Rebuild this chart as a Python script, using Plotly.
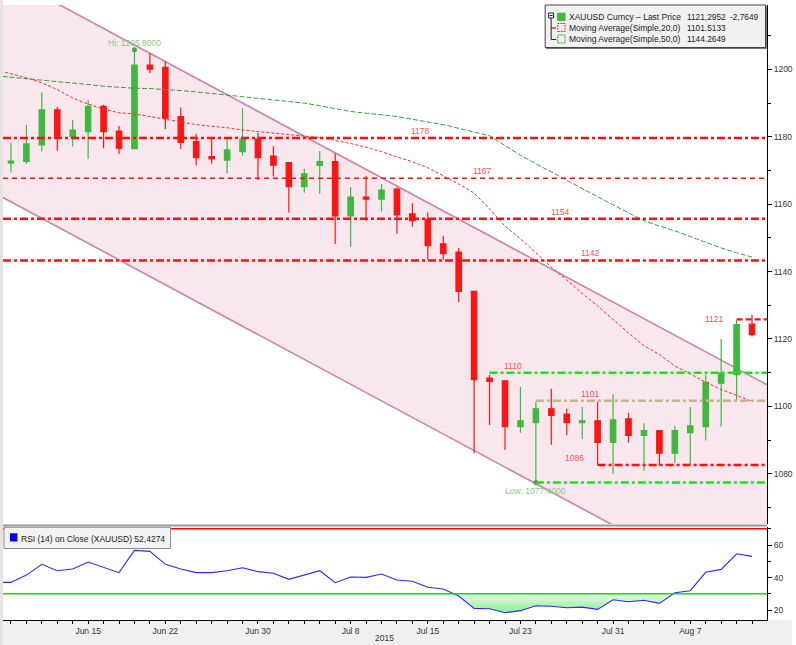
import plotly.graph_objects as go

# ---------------- data ----------------
dates = ["2015-06-05",
         "2015-06-08", "2015-06-09", "2015-06-10", "2015-06-11", "2015-06-12",
         "2015-06-15", "2015-06-16", "2015-06-17", "2015-06-18", "2015-06-19",
         "2015-06-22", "2015-06-23", "2015-06-24", "2015-06-25", "2015-06-26",
         "2015-06-29", "2015-06-30", "2015-07-01", "2015-07-02", "2015-07-03",
         "2015-07-06", "2015-07-07", "2015-07-08", "2015-07-09", "2015-07-10",
         "2015-07-13", "2015-07-14", "2015-07-15", "2015-07-16", "2015-07-17",
         "2015-07-20", "2015-07-21", "2015-07-22", "2015-07-23", "2015-07-24",
         "2015-07-27", "2015-07-28", "2015-07-29", "2015-07-30", "2015-07-31",
         "2015-08-03", "2015-08-04", "2015-08-05", "2015-08-06", "2015-08-07",
         "2015-08-10", "2015-08-11", "2015-08-12", "2015-08-13"]
candle_dates = dates[1:]

opens = [1172.2, 1172.7, 1177.6, 1188.0, 1180.1, 1181.5, 1189.0, 1181.7, 1176.5, 1201.3,
         1200.6, 1186.0, 1178.6, 1174.1, 1173.1, 1175.6, 1179.3, 1174.3, 1172.3, 1165.2,
         1171.5, 1172.6, 1156.5, 1162.1, 1161.5, 1164.5, 1157.1, 1155.5, 1148.2, 1145.8,
         1134.1, 1108.4, 1107.6, 1094.0, 1095.2, 1099.3, 1097.7, 1095.2, 1095.7, 1089.3,
         1096.3, 1091.4, 1092.8, 1086.1, 1092.2, 1094.0, 1106.9, 1109.4, 1124.4]
highs = [1178.3, 1183.5, 1193.1, 1188.8, 1185.0, 1190.9, 1189.5, 1183.2, 1205.8, 1204.8,
         1202.3, 1188.7, 1180.9, 1179.3, 1179.3, 1188.5, 1181.1, 1177.2, 1172.3, 1170.5,
         1175.8, 1175.1, 1165.0, 1168.4, 1166.0, 1165.0, 1160.3, 1157.6, 1150.6, 1147.0,
         1134.1, 1109.4, 1107.6, 1105.8, 1101.4, 1105.2, 1099.3, 1099.8, 1101.4, 1103.7,
         1098.0, 1095.0, 1092.8, 1094.2, 1099.8, 1109.4, 1120.0, 1125.6, 1127.2]
lows = [1169.4, 1172.0, 1175.6, 1175.9, 1177.1, 1173.4, 1176.6, 1174.9, 1176.5, 1198.9,
        1182.3, 1176.4, 1171.5, 1172.0, 1169.2, 1174.4, 1167.2, 1168.2, 1157.5, 1163.4,
        1163.1, 1148.2, 1147.4, 1155.1, 1157.8, 1151.2, 1153.4, 1143.5, 1143.5, 1131.0,
        1086.1, 1094.5, 1087.1, 1092.2, 1077.4, 1088.6, 1091.5, 1090.3, 1082.6, 1080.0,
        1089.3, 1080.9, 1082.6, 1083.1, 1082.6, 1089.9, 1094.0, 1101.7, 1120.7]
closes = [1172.8, 1177.9, 1188.0, 1180.1, 1182.0, 1189.0, 1181.5, 1176.6, 1201.3, 1200.1,
          1185.5, 1178.3, 1173.8, 1173.4, 1176.1, 1179.3, 1173.8, 1171.6, 1165.2, 1169.0,
          1172.6, 1156.5, 1162.1, 1161.5, 1164.2, 1156.8, 1155.1, 1147.7, 1145.3, 1134.1,
          1107.9, 1107.4, 1094.0, 1095.7, 1099.3, 1097.3, 1095.2, 1095.7, 1089.3, 1096.0,
          1091.4, 1092.8, 1086.1, 1092.8, 1094.2, 1107.1, 1109.9, 1124.3, 1121.3]

# moving averages and RSI (one value per entry of `dates`)
ma20 = [1199.9,
        1198.7, 1197.5, 1196.0, 1194.0, 1191.5, 1189.7, 1188.2, 1187.1, 1186.8, 1186.0,
        1185.3, 1184.5, 1183.6, 1183.1, 1182.7, 1182.0, 1181.5, 1181.0, 1180.6, 1180.2,
        1179.8, 1179.0, 1178.0, 1176.9, 1175.6, 1174.0, 1172.6, 1170.8, 1168.5, 1166.0,
        1163.3, 1158.6, 1153.5, 1149.7, 1145.6, 1141.3, 1137.5, 1133.5, 1129.8, 1125.7,
        1121.8, 1118.0, 1115.4, 1112.0, 1109.5, 1107.2, 1105.0, 1103.2, 1101.5]
ma50 = [1198.1,
        1197.7, 1197.3, 1196.8, 1196.4, 1196.0, 1195.5, 1195.0, 1194.6, 1194.4, 1194.3,
        1194.1, 1193.7, 1193.3, 1192.9, 1192.4, 1191.9, 1191.4, 1191.0, 1190.6, 1190.0,
        1189.2, 1188.3, 1187.5, 1187.0, 1186.5, 1186.0, 1185.2, 1184.4, 1183.6, 1182.5,
        1181.4, 1180.3, 1177.4, 1174.5, 1172.0, 1169.5, 1167.2, 1164.7, 1162.2, 1159.8,
        1157.5, 1155.1, 1153.5, 1152.1, 1150.4, 1148.7, 1147.0, 1145.6, 1144.3]
rsi = [37.0,
       37.0, 41.5, 48.1, 44.2, 45.2, 49.5, 46.0, 43.0, 56.7, 56.1,
       48.1, 45.2, 43.0, 43.0, 44.2, 46.0, 43.6, 42.6, 38.9, 41.5,
       44.2, 36.8, 40.3, 40.1, 42.2, 38.5, 37.7, 34.0, 32.9, 28.6,
       21.0, 20.8, 18.3, 19.6, 22.6, 22.3, 21.4, 21.8, 20.4, 26.3,
       25.1, 26.0, 24.1, 30.6, 31.9, 43.2, 45.0, 54.6, 53.0]

# trend channel anchors (date, price)
channel_upper = [("2015-06-08", 1226.9), ("2015-08-13", 1108.8)]
channel_lower = [("2015-06-08", 1160.7), ("2015-08-13", 1042.6)]

# horizontal levels: value, label, start date (None = full width)
level_values = [1179.6, 1167.7, 1155.7, 1143.3, 1125.8, 1110.0, 1101.7, 1082.6, 1077.4]
level_labels = ["1178", "1167", "1154", "1142", "1121", "1110", "1101", "1086", ""]
level_starts = [None, None, None, None, "2015-08-12", "2015-07-21", "2015-07-24", "2015-07-30", "2015-07-24"]

tick_dates = ["2015-06-15", "2015-06-22", "2015-06-30", "2015-07-08",
              "2015-07-15", "2015-07-23", "2015-07-31", "2015-08-07"]
tick_text = ["Jun 15", "Jun 22", "Jun 30", "Jul 8", "Jul 15", "Jul 23", "Jul 31", "Aug 7"]

legend_rows = [("XAUUSD Curncy – Last Price", "1121,2952", "-2,7649"),
               ("Moving Average(Simple,20,0)", "1101.5133", ""),
               ("Moving Average(Simple,50,0)", "1144.2649", "")]
rsi_legend = "RSI (14) on Close (XAUUSD) 52,4274"

# ---------------- layout helpers ----------------
W, H = 796, 645
ML, MR, MT, MB = 3, 25, 5, 25
PW, PH = W - ML - MR, H - MT - MB


def px(x):
    return (x - ML) / PW


def py(y):
    return (H - MB - y) / PH


pos = {d: i for i, d in enumerate(dates)}
xs_all = list(range(len(dates)))
xs_c = [pos[d] for d in candle_dates]
XR = [0.485, 49.97]

FONT = "Liberation Sans, Arial, sans-serif"
FS = 8.5
GREEN = "#40b840"
RED = "#ff1414"


def ext_line(anchors):
    (d0, v0), (d1, v1) = anchors
    x0, x1 = pos[d0], pos[d1]
    s = (v1 - v0) / (x1 - x0)
    return [v0 + s * (XR[0] - x0), v0 + s * (XR[1] - x0)]


shapes = []
annotations = []

# background pieces
shapes.append(dict(type="rect", xref="paper", yref="paper", x0=px(0), x1=px(W), y0=py(H), y1=py(620),
                   fillcolor="#f0f0f0", line=dict(width=0), layer="below"))
shapes.append(dict(type="rect", xref="paper", yref="paper", x0=px(0), x1=px(3), y0=py(H), y1=py(0),
                   fillcolor="#e4e4e4", line=dict(width=0), layer="below"))

# channel (drawn beneath the candles)
up = ext_line(channel_upper)
lo = ext_line(channel_lower)
shapes.append(dict(type="path", xref="x", yref="y", layer="below",
                   path=f"M {XR[0]},{lo[0]} L {XR[1]},{lo[1]} L {XR[1]},{up[1]} L {XR[0]},{up[0]} Z",
                   fillcolor="#f9e7ee", line=dict(width=0)))
for ln in (up, lo):
    shapes.append(dict(type="line", xref="x", yref="y", layer="below",
                       x0=XR[0], x1=XR[1], y0=ln[0], y1=ln[1],
                       line=dict(color="#c98aa6", width=1.7)))

fig = go.Figure()

# moving averages
fig.add_trace(go.Scatter(x=xs_all, y=ma50, mode="lines",
                         line=dict(color="#3c9c3c", width=1, dash="5px,2px")))
fig.add_trace(go.Scatter(x=xs_all, y=ma20, mode="lines",
                         line=dict(color="#ff2a2a", width=1, dash="3px,2px")))

# candles
fig.add_trace(go.Candlestick(x=xs_c, open=opens, high=highs, low=lows, close=closes,
                             increasing=dict(line=dict(color=GREEN, width=1.2), fillcolor=GREEN),
                             decreasing=dict(line=dict(color=RED, width=1.2), fillcolor=RED),
                             whiskerwidth=0))

# hi / low markers
hi_i = max(range(len(highs)), key=lambda i: highs[i])
lo_i = min(range(len(lows)), key=lambda i: lows[i])
fig.add_trace(go.Scatter(x=[xs_c[hi_i], xs_c[lo_i]], y=[highs[hi_i], lows[lo_i]], mode="markers",
                         marker=dict(color="#44aa44", size=5)))

# RSI fill below 30
rx, ry = [], []
for i, v in enumerate(rsi):
    if i > 0:
        a = rsi[i - 1]
        if (a - 30) * (v - 30) < 0:
            t = (30 - a) / (v - a)
            rx.append(i - 1 + t)
            ry.append(30)
    rx.append(i)
    ry.append(min(v, 30))
fig.add_trace(go.Scatter(x=rx, y=[30] * len(rx), mode="lines", line=dict(width=0),
                         xaxis="x", yaxis="y2", hoverinfo="skip"))
fig.add_trace(go.Scatter(x=rx, y=ry, mode="lines", line=dict(width=0), fill="tonexty",
                         fillgradient=dict(type="vertical",
                                           colorscale=[[0, "#8eea8e"], [1, "#e8ffe8"]]),
                         xaxis="x", yaxis="y2", hoverinfo="skip"))
fig.add_trace(go.Scatter(x=xs_all, y=rsi, mode="lines", line=dict(color="#2b2bff", width=1.1),
                         xaxis="x", yaxis="y2"))

# level lines
styles = [
    dict(color="#ff1010", width=2.5, dash="8px,3px,3px,3px"),
    dict(color="#ff1010", width=1.6, dash="5px,4px"),
    dict(color="#ff1010", width=2.5, dash="8px,3px,3px,3px"),
    dict(color="#ff1010", width=2.5, dash="8px,3px,3px,3px"),
    dict(color="#ff1010", width=2.2, dash="6px,3px"),
    dict(color="#22dd22", width=2.5, dash="8px,3px,3px,3px"),
    dict(color="#c8b48c", width=2.5, dash="8px,3px,3px,3px"),
    dict(color="#ff1010", width=2.5, dash="8px,3px,3px,3px"),
    dict(color="#22dd22", width=2.5, dash="8px,3px,3px,3px"),
]
for v, st, s in zip(level_values, level_starts, styles):
    x0 = XR[0] if st is None else pos[st]
    shapes.append(dict(type="line", xref="x", yref="y", x0=x0, x1=XR[1], y0=v, y1=v, line=s))

# level labels
label_pos = [(27.55, "bottom"), (31.54, "bottom"), (36.57, "bottom"), (38.56, "bottom"),
             (46.55, "middle"), (33.54, "bottom"), (38.56, "bottom"), (37.53, "bottom")]
for (lx, ya), v, t in zip(label_pos, level_values, level_labels):
    annotations.append(dict(x=lx, y=v, xref="x", yref="y", text=t, showarrow=False,
                            yanchor=ya, xanchor="center",
                            font=dict(family=FONT, size=FS, color="#ff5050")))
annotations.append(dict(x=xs_c[hi_i], y=highs[hi_i], xref="x", yref="y",
                        text=f"Hi: {highs[hi_i]:.4f}", showarrow=False, yanchor="bottom", yshift=0,
                        font=dict(family=FONT, size=FS, color="#7fcc7f")))
annotations.append(dict(x=xs_c[lo_i], y=lows[lo_i], xref="x", yref="y",
                        text=f"Low: {lows[lo_i]:.4f}", showarrow=False, yanchor="top", yshift=-1,
                        font=dict(family=FONT, size=FS, color="#7fcc7f")))

# RSI reference lines
shapes.append(dict(type="line", xref="x domain", yref="y2", x0=0, x1=1, y0=70, y1=70,
                   line=dict(color="#ff0000", width=1.5)))
shapes.append(dict(type="line", xref="x domain", yref="y2", x0=0, x1=1, y0=30, y1=30,
                   line=dict(color="#22cc22", width=1.5)))
# panel separator
shapes.append(dict(type="line", xref="paper", yref="paper", x0=0, x1=1, y0=py(525.6), y1=py(525.6),
                   line=dict(color="#999999", width=2)))

# main legend box
shapes.append(dict(type="rect", xref="paper", yref="paper", x0=px(549), x1=px(771), y0=py(49), y1=py(6),
                   fillcolor="#777777", line=dict(width=0)))
shapes.append(dict(type="rect", xref="paper", yref="paper", x0=px(548), x1=px(769.5), y0=py(47.5), y1=py(5),
                   fillcolor="#f1f1f1", line=dict(color="#444444", width=1)))
# tree icon
shapes.append(dict(type="rect", xref="paper", yref="paper", x0=px(551.5), x1=px(556.5), y0=py(18), y1=py(13),
                   fillcolor="white", line=dict(color="#222", width=1)))
shapes.append(dict(type="line", xref="paper", yref="paper", x0=px(552.5), x1=px(555.5), y0=py(15.5), y1=py(15.5),
                   line=dict(color="#222", width=1)))
shapes.append(dict(type="line", xref="paper", yref="paper", x0=px(554), x1=px(554), y0=py(18), y1=py(39.5),
                   line=dict(color="#222", width=1)))
for yy in (28, 39.5):
    shapes.append(dict(type="line", xref="paper", yref="paper", x0=px(554), x1=px(559), y0=py(yy), y1=py(yy),
                       line=dict(color="#222", width=1)))
shapes.append(dict(type="rect", xref="paper", yref="paper", x0=px(560), x1=px(568.5), y0=py(21), y1=py(12.7),
                   fillcolor="#3cbf3c", line=dict(width=0)))
shapes.append(dict(type="rect", xref="paper", yref="paper", x0=px(560.7), x1=px(568), y0=py(31.5), y1=py(23.5),
                   fillcolor="rgba(0,0,0,0)", line=dict(color="#ff2020", width=1, dash="2px,1px")))
shapes.append(dict(type="rect", xref="paper", yref="paper", x0=px(560.7), x1=px(568), y0=py(43), y1=py(35),
                   fillcolor="rgba(0,0,0,0)", line=dict(color="#33a033", width=1, dash="2px,1px")))
for (t, v1, v2), yy in zip(legend_rows, (17.3, 28, 39.3)):
    annotations.append(dict(x=px(570), y=py(yy), xref="paper", yref="paper", text=t, showarrow=False,
                            xanchor="left", yanchor="middle",
                            font=dict(family=FONT, size=FS, color="#1a1a1a")))
    annotations.append(dict(x=px(689), y=py(yy), xref="paper", yref="paper", text=v1, showarrow=False,
                            xanchor="left", yanchor="middle",
                            font=dict(family=FONT, size=8.3, color="#1a1a1a")))
    if v2:
        annotations.append(dict(x=px(732), y=py(yy), xref="paper", yref="paper", text=v2, showarrow=False,
                                xanchor="left", yanchor="middle",
                                font=dict(family=FONT, size=8.3, color="#1a1a1a")))

# RSI legend box
shapes.append(dict(type="rect", xref="paper", yref="paper", x0=px(4), x1=px(171.5), y0=py(548.5), y1=py(527.3),
                   fillcolor="#f3f3f3", line=dict(color="#8a8a8a", width=1)))
shapes.append(dict(type="rect", xref="paper", yref="paper", x0=px(10), x1=px(17.5), y0=py(541.5), y1=py(533.3),
                   fillcolor="#0000ff", line=dict(width=0)))
annotations.append(dict(x=px(19.5), y=py(539), xref="paper", yref="paper", text=rsi_legend, showarrow=False,
                        xanchor="left", yanchor="middle",
                        font=dict(family=FONT, size=FS, color="#1a1a1a")))

# year label
annotations.append(dict(x=px(386), y=py(638), xref="paper", yref="paper", text="2015", showarrow=False,
                        xanchor="center", yanchor="middle",
                        font=dict(family=FONT, size=FS, color="#333333")))

fig.update_layout(
    width=W, height=H,
    margin=dict(l=ML, r=MR, t=MT, b=MB, pad=0),
    paper_bgcolor="white", plot_bgcolor="white",
    showlegend=False,
    boxgap=0.5,
    font=dict(family=FONT, size=FS, color="#222"),
    xaxis=dict(domain=[0, 1], range=XR, anchor="y2", showgrid=False, zeroline=False,
               showline=True, linecolor="black", linewidth=1,
               tickvals=[pos[d] for d in tick_dates], ticktext=tick_text,
               ticks="outside", ticklen=3, tickcolor="black",
               minor=dict(dtick=1, tick0=0, ticks="outside", ticklen=3, tickcolor="black"),
               tickfont=dict(family=FONT, size=FS, color="#333"),
               rangeslider=dict(visible=False), fixedrange=True),
    yaxis=dict(domain=[py(524), 1], range=[1065.1, 1219.1], side="right", anchor="x",
               showgrid=False, zeroline=False, showline=True, linecolor="black", linewidth=1,
               tickvals=[1080, 1100, 1120, 1140, 1160, 1180, 1200],
               ticks="outside", ticklen=4, tickcolor="black",
               minor=dict(dtick=10, tick0=0, ticks="outside", ticklen=3, tickcolor="black"),
               tickfont=dict(family=FONT, size=FS, color="#333")),
    yaxis2=dict(domain=[0, py(527)], range=[13.85, 71.1], side="right", anchor="x",
                showgrid=False, zeroline=False, showline=True, linecolor="black", linewidth=1,
                tickvals=[20, 40, 60],
                ticks="outside", ticklen=4, tickcolor="black",
                minor=dict(dtick=10, tick0=0, ticks="outside", ticklen=3, tickcolor="black"),
                tickfont=dict(family=FONT, size=FS, color="#333")),
    shapes=shapes,
    annotations=annotations,
)

fig.write_html("out.html")
